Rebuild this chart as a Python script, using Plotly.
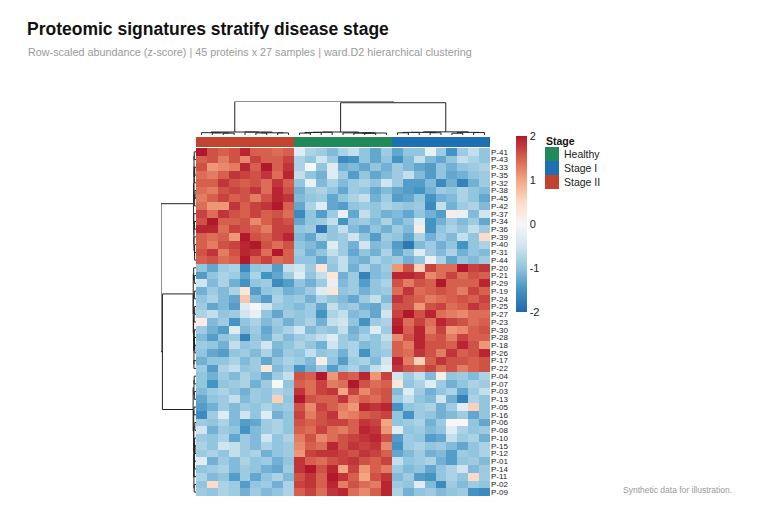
import numpy as np
import plotly.graph_objects as go

# ==========================================
# DATA (row-scaled z-scores, display order)
# ==========================================

proteins = [
    "P-41", "P-43", "P-33", "P-35", "P-32", "P-38", "P-45", "P-42", "P-37", "P-34",
    "P-36", "P-39", "P-40", "P-31", "P-44",
    "P-20", "P-21", "P-29", "P-19", "P-24", "P-25", "P-27", "P-23", "P-30", "P-28",
    "P-18", "P-26", "P-17", "P-22",
    "P-04", "P-07", "P-03", "P-13", "P-05", "P-16", "P-06", "P-08", "P-10", "P-15",
    "P-12", "P-01", "P-14", "P-11", "P-02", "P-09",
]

sample_stage = ["Stage II"] * 9 + ["Healthy"] * 9 + ["Stage I"] * 9
stage_levels = ["Healthy", "Stage I", "Stage II"]
stage_colors = {"Healthy": "#228A5A", "Stage I": "#1F6FB5", "Stage II": "#C2432F"}

# proteins up in Stage II
z_stage2 = [
    [2.0, 1.6, 1.5, 1.6, 1.9, 1.5, 1.5, 1.4, 1.5, -0.3, -0.8, -0.9, -1.1, -0.8, -0.6, -1.0, -1.3, -0.9, -1.3, -1.0, -1.0, -0.2, -0.9, -1.5, -0.9, -0.6, -1.0],
    [1.5, 1.6, 1.3, 1.6, 1.2, 1.7, 1.5, 1.5, 1.7, -0.8, -1.0, -0.5, -0.9, -1.6, -1.5, -1.0, -1.3, -1.0, -1.5, -1.1, -0.6, -1.1, -1.3, -1.0, -0.6, -0.8, -1.0],
    [1.6, 1.1, 1.2, 1.3, 1.9, 1.5, 2.0, 1.5, 1.8, -0.8, 0.0, -1.0, -0.3, -1.2, -1.1, -1.3, -1.0, -1.2, -0.9, -1.1, -1.3, -1.4, -1.0, -1.2, -1.0, -0.9, -0.8],
    [1.4, 1.3, 1.5, 1.8, 1.7, 1.6, 1.8, 1.4, 1.9, -0.6, -1.0, -1.2, -0.3, -0.9, -1.4, -1.0, -1.3, -1.1, -0.9, -0.6, -1.1, -1.4, -1.0, -1.3, -1.2, -1.0, -0.9],
    [1.5, 1.5, 1.8, 1.6, 1.5, 1.6, 1.4, 1.8, 1.5, -1.0, -0.2, -1.1, -0.8, -1.1, -0.9, -0.8, -1.0, -0.5, -0.9, -1.4, -1.4, -1.1, -1.6, -1.2, -1.7, -1.2, -0.9],
    [1.4, 1.3, 1.6, 1.7, 1.6, 1.8, 1.4, 1.9, 1.6, -1.2, -0.9, -0.8, -1.0, -1.3, -0.9, -1.0, -1.3, -1.1, -1.3, -1.4, -1.5, -1.2, -0.9, -1.0, -0.8, -1.0, -1.1],
    [1.3, 1.5, 1.7, 1.5, 1.6, 1.3, 1.6, 1.9, 1.8, -1.1, -1.0, -0.9, -1.3, -1.0, -0.8, -0.6, -1.2, -0.9, -1.4, -1.3, -1.0, -1.5, -1.2, -1.1, -0.8, -1.0, -1.3],
    [1.4, 1.1, 1.1, 1.8, 1.5, 1.7, 1.8, 2.0, 1.5, -1.3, -0.8, -0.3, -1.3, -1.4, -1.0, -0.9, -1.0, -0.8, -0.9, -1.0, -0.9, -1.6, -0.6, -1.2, -0.9, -0.8, -1.1],
    [1.7, 1.4, 1.8, 1.6, 1.5, 1.7, 1.5, 1.6, 1.4, -1.6, -1.0, -1.4, -0.9, -0.2, -1.3, -0.6, -1.0, -1.2, -1.1, -1.3, -1.0, -1.2, -1.4, 0.2, -0.2, -1.1, -0.5],
    [1.6, 2.0, 1.5, 1.5, 1.6, 1.2, 1.5, 1.7, 1.6, -1.3, -1.0, -0.9, -0.6, -1.5, -1.0, -0.9, -1.1, -0.8, -1.2, -1.0, -0.3, -1.5, -1.2, -0.9, -1.1, -0.9, -1.3],
    [1.9, 1.9, 1.4, 1.7, 1.6, 1.5, 1.3, 1.7, 1.7, -1.0, -0.9, -1.8, -1.0, -0.6, -1.1, -1.3, -1.0, -1.2, -0.9, -1.1, 0.2, -1.5, -1.0, -0.8, -1.0, -0.6, -0.9],
    [1.5, 1.4, 1.5, 1.1, 2.0, 1.6, 1.5, 1.7, 1.9, -1.1, -1.3, -0.8, -1.0, -0.9, -0.5, -1.0, -1.4, -0.9, -1.0, -1.3, -0.8, -1.2, -0.9, -1.1, -0.6, -1.0, 0.5],
    [1.5, 1.3, 1.6, 1.7, 1.9, 2.0, 1.6, 1.4, 1.6, -1.0, -1.1, -1.3, -0.3, -0.9, -1.2, -0.5, -1.1, -1.0, -1.4, -1.8, -1.1, -0.9, -1.2, -1.0, -1.5, -1.0, -0.8],
    [1.6, 1.8, 1.3, 1.6, 1.9, 1.8, 1.4, 2.0, 1.5, -0.9, -1.2, -1.0, -0.6, -0.9, -1.3, -1.0, -1.2, -0.8, -1.3, -1.0, -0.3, -0.9, -1.1, -0.8, -1.2, -1.0, -1.1],
    [1.5, 1.6, 1.4, 1.5, 2.0, 1.5, 1.7, 1.4, 1.5, -1.0, -1.0, -1.3, -0.9, -0.6, -1.1, -1.2, -0.8, -1.0, -0.9, -1.2, -1.0, -0.2, -0.8, -1.3, -1.0, -1.1, -0.9],
]

# proteins up in Stage I
z_stage1 = [
    [-1.0, -1.3, -0.9, -0.8, -1.6, -1.0, -0.9, -1.4, -0.6, -0.5, -0.9, 0.3, -1.0, -0.6, -1.2, -0.8, -1.1, -0.9, 1.1, 1.6, 0.6, 1.7, 1.4, 1.4, 2.0, 1.7, 1.8],
    [-1.4, -1.0, -0.8, -0.9, -1.3, -0.8, -1.5, -1.3, -0.9, -0.3, -1.0, -0.6, 0.3, -1.2, -0.9, -1.7, -1.1, -1.0, 1.9, 1.9, 1.8, 1.2, 1.4, 1.7, 1.4, 1.6, 1.5],
    [-0.5, -1.1, -0.8, -1.2, -1.5, -1.0, -0.9, -1.6, -1.4, -1.0, -1.2, -0.9, -0.2, -1.1, -0.9, -1.4, -1.0, -0.8, 1.6, 1.3, 1.6, 1.5, 2.0, 1.5, 1.5, 1.5, 1.9],
    [-1.2, -0.9, -1.1, -0.8, 0.3, -1.4, -1.0, -0.9, -1.2, -1.1, -0.9, -0.3, 0.3, -1.0, -0.9, -1.2, -1.0, -0.9, 1.4, 1.8, 1.4, 1.5, 1.6, 1.5, 1.3, 1.7, 1.5],
    [-1.0, -0.8, -1.1, -1.3, 0.7, -1.1, -1.4, -0.8, -1.0, -0.9, -1.2, -0.8, -1.0, -1.1, -1.3, -0.9, -0.6, -1.1, 1.8, 1.6, 1.5, 1.3, 1.4, 1.5, 1.6, 1.5, 1.7],
    [-0.9, -1.3, -1.1, -1.4, -0.3, 0.0, -0.5, -0.9, -1.0, -1.1, -0.9, -1.3, -0.6, -1.0, -0.9, -1.2, -1.3, -0.8, 1.6, 1.6, 1.1, 1.6, 1.7, 1.4, 1.5, 1.8, 1.6],
    [-0.8, -0.6, -1.0, -0.9, -0.5, -0.2, -1.0, -1.3, -0.9, -1.0, -0.9, -1.5, -0.8, -0.6, -1.1, -1.0, -1.3, -0.5, 1.7, 2.0, 1.6, 1.9, 1.4, 1.3, 1.2, 1.4, 1.4],
    [0.2, -1.1, -0.9, -1.5, -1.0, -0.8, -1.1, -0.9, -1.2, -1.0, -0.8, -1.2, -0.6, -0.5, -1.0, -1.5, -0.9, -0.8, 1.9, 1.4, 1.7, 1.4, 1.9, 1.7, 1.6, 1.4, 1.5],
    [-0.9, -1.2, -1.4, -0.3, -1.1, -0.9, -1.3, -1.0, -0.8, -0.5, -1.1, -0.9, -1.0, -0.6, -1.2, -1.0, -0.3, -0.9, 2.0, 1.5, 1.9, 1.3, 1.7, 1.1, 1.2, 1.5, 1.6],
    [-1.1, -1.4, -1.0, -0.9, -1.7, -1.0, -1.2, -0.8, -1.1, -0.9, -0.8, -0.6, -0.3, -0.9, -1.1, -0.8, -1.0, -0.6, 1.2, 1.6, 1.9, 1.5, 1.6, 1.3, 1.7, 1.5, 1.5],
    [-0.9, -1.0, -1.2, -0.6, -1.0, -0.9, -0.5, -1.1, -1.0, -0.8, -1.0, -1.2, -0.5, -0.9, -0.8, -1.1, -1.0, -0.8, 1.5, 1.3, 1.9, 1.6, 1.6, 1.5, 1.9, 1.6, 1.1],
    [-1.0, -1.3, -1.4, -1.0, -0.9, -1.1, -0.8, -1.2, -0.9, -1.0, -0.6, -1.0, -0.9, -1.2, -0.8, -1.5, -1.0, -0.9, 1.5, 1.4, 1.8, 1.6, 1.3, 1.8, 1.5, 1.6, 1.9],
    [-1.2, -1.0, -1.0, -0.8, -1.1, -0.9, -1.3, -1.0, -0.8, -0.9, -1.1, 0.2, -1.0, -1.4, -0.9, -0.8, -1.1, -0.5, 1.9, 1.3, 0.6, 1.5, 1.8, 1.6, 1.6, 1.5, 1.6],
    [-0.9, -1.4, -0.8, -0.6, -1.0, -0.9, 0.3, -1.1, -0.9, -1.5, -1.2, -0.9, -1.4, -1.0, -0.8, -1.1, -0.6, -0.3, 1.8, 1.6, 1.5, 1.7, 1.4, 1.6, 1.3, 1.5, 1.6],
]

# proteins up in Healthy
z_healthy = [
    [-1.0, -1.2, -0.9, -1.1, -0.8, -1.0, -1.3, -0.9, -0.6, 1.6, 1.5, 2.0, 1.1, 1.6, 1.5, 1.9, 1.1, 1.7, -0.5, -0.9, -0.6, -1.1, 0.2, -1.0, -0.9, -1.1, -0.8],
    [-1.0, -1.5, -1.0, -0.9, -0.8, -1.2, -0.9, 0.0, -1.0, 1.5, 1.4, 1.7, 1.3, 1.4, 2.0, 1.6, 1.4, 1.5, 0.3, -1.0, -0.8, -0.3, -0.9, -1.2, -1.0, -0.8, -0.9],
    [-1.1, -0.9, -0.8, -1.0, -1.2, -0.9, -1.0, -0.8, -0.9, 1.8, 1.4, 1.7, 1.8, 1.0, 1.7, 1.2, 1.5, 1.6, -1.1, -0.3, -0.9, -1.2, -1.0, -0.8, -1.3, -0.9, -0.6],
    [-1.3, -1.0, -0.9, -0.6, -1.1, -0.9, -1.0, 0.6, -1.0, 2.0, 1.6, 1.5, 1.5, 1.8, 1.3, 1.5, 1.4, 1.6, -0.9, -0.6, -1.0, -1.1, -0.5, -1.2, -1.7, -0.8, -1.0],
    [-1.4, -1.2, -0.9, -1.1, -0.9, -1.0, -0.8, -1.0, -0.9, 1.6, 1.2, 1.7, 1.5, 1.3, 1.1, 1.9, 1.8, 1.9, -1.5, -1.0, -0.9, -0.8, -1.2, -0.9, -0.3, 0.6, -1.0],
    [-1.6, -0.9, -0.3, -1.1, -0.5, -1.0, -0.3, -1.2, -1.0, 1.7, 1.3, 1.6, 1.8, 1.2, 1.3, 1.5, 1.6, 1.7, -1.0, -1.5, -0.9, -1.0, -1.2, -1.1, -0.9, -1.3, -1.0],
    [-0.9, -1.0, -0.8, -1.1, -1.4, -1.3, -0.9, -0.8, -1.0, 1.6, 1.5, 1.6, 1.7, 1.7, 1.5, 1.8, 1.7, 1.0, -1.0, -0.9, -0.8, -1.2, -0.9, 0.0, 0.0, -1.0, -1.3],
    [-0.5, -1.2, -0.9, -1.0, -1.5, -1.1, -0.9, -0.8, -1.0, 1.5, 1.4, 1.7, 1.4, 1.3, 1.5, 1.9, 1.8, 1.1, -0.3, -1.0, -0.9, -1.1, -1.0, -0.3, -0.8, -1.0, -0.9],
    [-0.9, -1.0, -0.8, -1.3, -0.9, -1.1, -0.5, -1.0, -0.8, 1.3, 1.6, 1.2, 1.4, 1.6, 1.7, 1.8, 1.9, 1.6, -1.4, -0.9, -1.0, -1.4, -1.3, -0.6, -0.9, -0.8, -1.2],
    [-0.8, -1.0, -0.5, -0.6, -0.9, -1.1, -0.8, -1.0, -0.9, 1.2, 1.5, 1.4, 1.9, 1.6, 1.8, 1.7, 1.8, 1.2, -1.5, -0.9, -0.8, -1.0, -0.9, -1.1, -1.3, -1.0, -0.8],
    [-0.9, -0.8, -1.0, -0.6, -0.9, -0.8, -1.2, -1.0, -0.9, 1.1, 1.7, 1.8, 1.8, 1.7, 1.6, 1.8, 1.7, 1.5, -1.3, -1.1, -0.9, -1.2, -1.1, -1.4, -0.9, -1.0, -0.8],
    [-0.3, -1.2, -0.9, -1.1, -0.8, -1.0, -0.9, -1.2, -1.0, 1.8, 1.5, 1.4, 1.6, 1.7, 1.8, 1.6, 1.5, 1.7, -0.6, -1.0, -0.9, -0.8, -1.2, -1.4, -1.0, -0.9, -1.1],
    [-1.0, -0.9, -0.8, -1.1, -0.9, -1.0, -1.2, -1.3, -0.9, 1.8, 2.0, 1.6, 1.9, 1.0, 1.7, 1.1, 1.5, 1.3, -0.9, -1.1, -1.0, -1.3, -1.0, -0.8, -0.5, -1.1, -0.9],
    [-0.8, -1.1, -1.0, -1.4, -0.9, -1.3, -1.0, -0.8, -1.1, 1.6, 1.8, 1.5, 2.0, 1.8, 1.5, 1.0, 1.6, 1.8, -1.1, -0.9, -1.4, -1.5, -1.0, -0.8, -1.0, 0.5, -0.9],
    [-1.0, 0.5, -0.8, -0.9, -1.4, -1.0, -0.9, -1.2, -0.8, 1.7, 1.8, 1.5, 1.9, 1.3, 1.6, 1.4, 1.3, 1.9, -0.9, -1.0, -0.3, -1.1, -1.6, -0.9, -1.1, -0.9, -1.0],
    [-0.9, -1.0, -0.8, -0.9, -1.2, -0.9, -1.1, -1.0, -0.8, 1.5, 1.7, 1.4, 1.8, 1.9, 1.4, 1.2, 1.5, 1.9, -0.8, -1.2, -1.0, -0.9, -1.1, -1.0, -0.9, -1.5, -1.6],
]

z = np.array(z_stage2 + z_stage1 + z_healthy)
n_rows, n_cols = z.shape

# ==========================================
# WARD.D2 DENDROGRAM (neighbours only, keeps display order)
# ==========================================


def ward_segments(vectors):
    clusters = [
        {"pos": float(i), "h": 0.0, "c": vectors[i].astype(float), "n": 1}
        for i in range(len(vectors))
    ]
    pos_line, h_line = [], []
    top = 0.0
    while len(clusters) > 1:
        best_d, best_k = None, 0
        for k in range(len(clusters) - 1):
            a, b = clusters[k], clusters[k + 1]
            d = np.sqrt(2 * a["n"] * b["n"] / (a["n"] + b["n"])) * np.linalg.norm(a["c"] - b["c"])
            if best_d is None or d < best_d:
                best_d, best_k = d, k
        a, b = clusters[best_k], clusters[best_k + 1]
        h = max(best_d, a["h"], b["h"])
        pos_line += [a["pos"], a["pos"], b["pos"], b["pos"], None]
        h_line += [a["h"], h, h, b["h"], None]
        n = a["n"] + b["n"]
        clusters[best_k:best_k + 2] = [{
            "pos": (a["pos"] + b["pos"]) / 2,
            "h": h,
            "c": (a["c"] * a["n"] + b["c"] * b["n"]) / n,
            "n": n,
        }]
        top = h
    return pos_line, h_line, top


col_pos, col_h, col_top = ward_segments(z.T)
row_pos, row_h, row_top = ward_segments(z)

# ==========================================
# FIGURE
# ==========================================

W, H = 760, 506


def px_x(v):
    return v / W


def px_y(v):
    return 1 - v / H


rdbu = [
    [0.0, "#2166AC"], [0.125, "#4393C3"], [0.25, "#92C5DE"], [0.375, "#D1E5F0"],
    [0.5, "#F7F7F7"], [0.625, "#FDDBC7"], [0.75, "#F4A582"], [0.875, "#D6604D"],
    [1.0, "#B2182B"],
]

fig = go.Figure()

fig.add_trace(go.Heatmap(
    z=z,
    x=list(range(n_cols)),
    y=list(range(n_rows)),
    zmin=-2, zmax=2,
    colorscale=rdbu,
    colorbar=dict(
        x=px_x(516), xanchor="left",
        y=px_y(224), yanchor="middle",
        len=176 / H, lenmode="fraction",
        thickness=11, xpad=0, ypad=0,
        outlinewidth=0,
        tickvals=[-2, -1, 0, 1, 2],
        ticktext=["-2", "-1", "0", "1", "2"],
        ticks="",
        tickfont=dict(size=11, color="#222222"),
    ),
    hovertemplate="%{customdata}<extra></extra>",
    customdata=[[f"{p}: {v:.2f}" for v in row] for p, row in zip(proteins, z)],
))

# stage annotation bar
stage_code = [stage_levels.index(s) for s in sample_stage]
fig.add_trace(go.Heatmap(
    z=[stage_code],
    x=list(range(n_cols)),
    y=[0],
    xaxis="x", yaxis="y3",
    zmin=0, zmax=2,
    colorscale=[
        [0.0, stage_colors["Healthy"]], [1 / 3, stage_colors["Healthy"]],
        [1 / 3, stage_colors["Stage I"]], [2 / 3, stage_colors["Stage I"]],
        [2 / 3, stage_colors["Stage II"]], [1.0, stage_colors["Stage II"]],
    ],
    showscale=False,
    hovertemplate="%{x}<extra></extra>",
))

# column dendrogram
fig.add_trace(go.Scatter(
    x=col_pos, y=col_h,
    xaxis="x2", yaxis="y2",
    mode="lines",
    line=dict(color="#222222", width=1),
    hoverinfo="skip",
))

# row dendrogram
fig.add_trace(go.Scatter(
    x=row_h, y=row_pos,
    xaxis="x3", yaxis="y",
    mode="lines",
    line=dict(color="#222222", width=1),
    hoverinfo="skip",
))

hidden = dict(showgrid=False, zeroline=False, showticklabels=False, ticks="", showline=False)

fig.update_layout(
    width=W, height=H,
    margin=dict(l=0, r=0, t=0, b=0),
    paper_bgcolor="white",
    plot_bgcolor="white",
    showlegend=False,
    font=dict(family="Liberation Sans, Arial, sans-serif", color="#222222"),
    xaxis=dict(domain=[px_x(196), px_x(490)], range=[-0.5, n_cols - 0.5], anchor="y", **hidden),
    yaxis=dict(
        domain=[px_y(496), px_y(148)],
        range=[n_rows - 0.5, -0.5],
        side="right", anchor="x",
        tickvals=list(range(n_rows)), ticktext=proteins,
        tickfont=dict(size=8, color="#222222"),
        ticks="", showgrid=False, zeroline=False, showline=False,
    ),
    xaxis2=dict(domain=[px_x(196), px_x(490)], range=[-0.5, n_cols - 0.5], anchor="y2", **hidden),
    yaxis2=dict(domain=[px_y(135), px_y(101.5)], range=[0, col_top], anchor="x2", **hidden),
    yaxis3=dict(domain=[px_y(147), px_y(137)], range=[-0.5, 0.5], anchor="x", **hidden),
    xaxis3=dict(domain=[px_x(161), px_x(196)], range=[row_top, 0], anchor="y", **hidden),
)

# ==========================================
# STAGE LEGEND
# ==========================================

shapes = []
annotations = [dict(
    x=px_x(544), y=px_y(140.5), xref="paper", yref="paper",
    xanchor="left", yanchor="middle", showarrow=False,
    text="<b>Stage</b>", font=dict(size=10.5, color="#111111"),
)]
for i, level in enumerate(stage_levels):
    top = 147 + 14 * i
    shapes.append(dict(
        type="rect", xref="paper", yref="paper",
        x0=px_x(545), x1=px_x(559), y0=px_y(top + 14), y1=px_y(top),
        fillcolor=stage_colors[level], line=dict(width=0),
    ))
    annotations.append(dict(
        x=px_x(562), y=px_y(top + 7), xref="paper", yref="paper",
        xanchor="left", yanchor="middle", showarrow=False,
        text=level, font=dict(size=10.5, color="#222222"),
    ))

# ==========================================
# TITLES
# ==========================================

annotations += [
    dict(
        x=px_x(25), y=px_y(29), xref="paper", yref="paper",
        xanchor="left", yanchor="middle", showarrow=False,
        text="<b>Proteomic signatures stratify disease stage</b>",
        font=dict(size=17.5, color="#111111"),
    ),
    dict(
        x=px_x(26), y=px_y(52), xref="paper", yref="paper",
        xanchor="left", yanchor="middle", showarrow=False,
        text="Row-scaled abundance (z-score) | 45 proteins x 27 samples | ward.D2 hierarchical clustering",
        font=dict(size=10.8, color="#9A9A9A"),
    ),
    dict(
        x=px_x(734), y=px_y(489.5), xref="paper", yref="paper",
        xanchor="right", yanchor="middle", showarrow=False,
        text="Synthetic data for illustration.",
        font=dict(size=8.5, color="#9A9A9A"),
    ),
]

fig.update_layout(shapes=shapes, annotations=annotations)

# page body has a default 8px margin; drop it so the figure sits at the window origin
fig.write_html(
    "out.html",
    config={"displayModeBar": False},
    post_script="document.body.style.margin='0px';",
)
